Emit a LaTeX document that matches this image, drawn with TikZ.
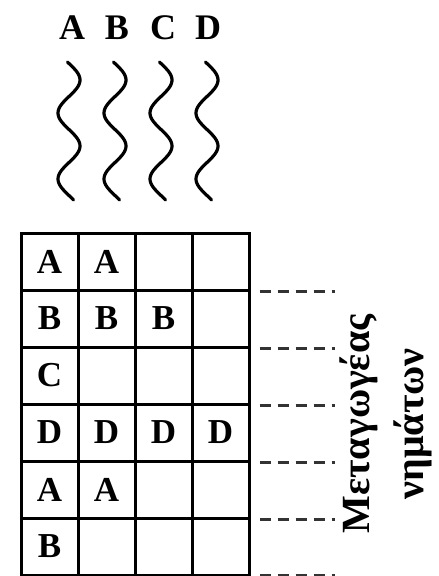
\documentclass[tikz,border=0pt]{standalone}
\usepackage{fontspec}
\setmainfont{Liberation Serif}
\begin{document}
\begin{tikzpicture}[
    x=1pt, y=-1pt,
    cell/.style={
        rectangle,
        draw=black,
        line width=3pt,
        minimum size=57pt,
        inner sep=0pt,
        font=\fontsize{35}{40}\selectfont\bfseries
    },
    thread/.style={
        inner sep=0pt,
        font=\fontsize{36}{40}\selectfont\bfseries
    },
    wave/.style={
        line width=3.2pt,
        draw=black,
        line cap=round
    },
    guide/.style={
        line width=2.2pt,
        draw=black!80,
        dash pattern=on 11pt off 7pt
    },
    caption/.style={
        rotate=90,
        align=center,
        inner sep=0pt,
        font=\fontsize{40}{54}\selectfont\bfseries
    }
]
    \useasboundingbox (0,0) rectangle (439,576);

    % threads
    \node[thread] (tA) at (72, 28) {A};
    \node[thread] (tB) at (117, 28) {B};
    \node[thread] (tC) at (163, 28) {C};
    \node[thread] (tD) at (208, 28) {D};

    \draw[wave] plot[domain=62:200, samples=80] ({69 + 11*sin((\x-63.5)/33*180)}, \x);
    \draw[wave] plot[domain=62:200, samples=80] ({115 + 11*sin((\x-63.5)/33*180)}, \x);
    \draw[wave] plot[domain=62:200, samples=80] ({161 + 11*sin((\x-63.5)/33*180)}, \x);
    \draw[wave] plot[domain=62:200, samples=80] ({207 + 11*sin((\x-63.5)/33*180)}, \x);

    % row 1
    \node[cell] (r1c1) at (49.5, 261.5) {A};
    \node[cell] (r1c2) at (106.5, 261.5) {A};
    \node[cell] (r1c3) at (163.5, 261.5) {};
    \node[cell] (r1c4) at (220.5, 261.5) {};

    % row 2
    \node[cell] (r2c1) at (49.5, 318.5) {B};
    \node[cell] (r2c2) at (106.5, 318.5) {B};
    \node[cell] (r2c3) at (163.5, 318.5) {B};
    \node[cell] (r2c4) at (220.5, 318.5) {};

    % row 3
    \node[cell] (r3c1) at (49.5, 375.5) {C};
    \node[cell] (r3c2) at (106.5, 375.5) {};
    \node[cell] (r3c3) at (163.5, 375.5) {};
    \node[cell] (r3c4) at (220.5, 375.5) {};

    % row 4
    \node[cell] (r4c1) at (49.5, 432.5) {D};
    \node[cell] (r4c2) at (106.5, 432.5) {D};
    \node[cell] (r4c3) at (163.5, 432.5) {D};
    \node[cell] (r4c4) at (220.5, 432.5) {D};

    % row 5
    \node[cell] (r5c1) at (49.5, 489.5) {A};
    \node[cell] (r5c2) at (106.5, 489.5) {A};
    \node[cell] (r5c3) at (163.5, 489.5) {};
    \node[cell] (r5c4) at (220.5, 489.5) {};

    % row 6
    \node[cell] (r6c1) at (49.5, 546.5) {B};
    \node[cell] (r6c2) at (106.5, 546.5) {};
    \node[cell] (r6c3) at (163.5, 546.5) {};
    \node[cell] (r6c4) at (220.5, 546.5) {};

    % switch marks
    \draw[guide] ([xshift=9pt]r1c4.south east) -- ++(75,0);
    \draw[guide] ([xshift=9pt]r2c4.south east) -- ++(75,0);
    \draw[guide] ([xshift=9pt]r3c4.south east) -- ++(75,0);
    \draw[guide] ([xshift=9pt]r4c4.south east) -- ++(75,0);
    \draw[guide] ([xshift=9pt]r5c4.south east) -- ++(75,0);
    \draw[guide] ([xshift=9pt,yshift=1pt]r6c4.south east) -- ++(75,0);

    \node[caption] (switch) at (386, 424) {Μεταγωγέας\\νημάτων};
\end{tikzpicture}
\end{document}
